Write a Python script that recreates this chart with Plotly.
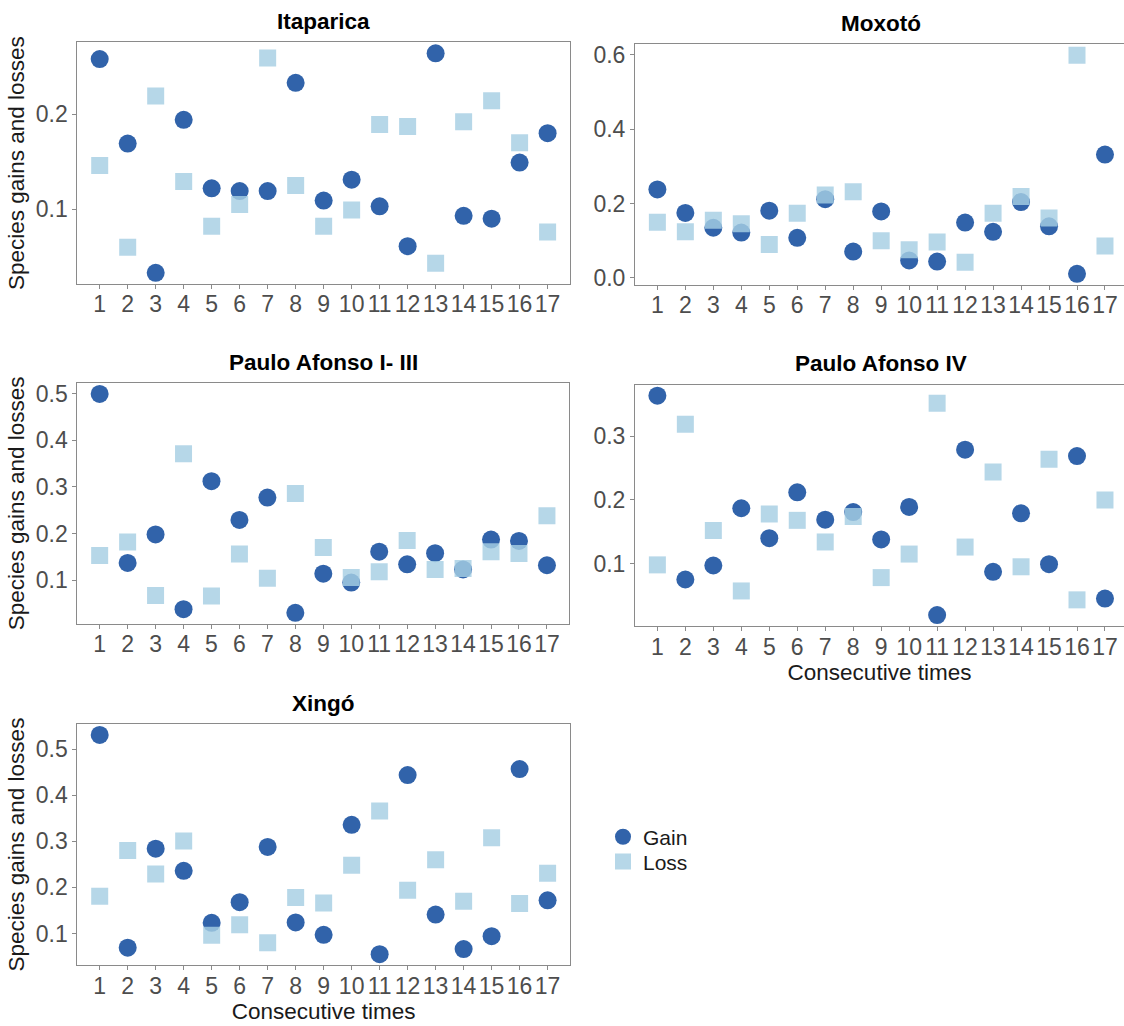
import plotly.graph_objects as go

# ---------------- data ----------------
times = list(range(1, 18))
tick_labels = [str(t) for t in times]

panel_titles = ["Itaparica", "Moxotó", "Paulo Afonso I- III", "Paulo Afonso IV", "Xingó"]

itaparica_gain = [0.258, 0.169, 0.033, 0.194, 0.122, 0.119, 0.119, 0.233, 0.109, 0.131, 0.103, 0.061, 0.264, 0.093, 0.090, 0.149, 0.180]
itaparica_loss = [0.146, 0.060, 0.219, 0.129, 0.082, 0.105, 0.259, 0.125, 0.082, 0.099, 0.189, 0.187, 0.043, 0.192, 0.214, 0.170, 0.076]

moxoto_gain = [0.238, 0.175, 0.135, 0.122, 0.181, 0.108, 0.212, 0.071, 0.179, 0.047, 0.044, 0.149, 0.124, 0.204, 0.139, 0.011, 0.332]
moxoto_loss = [0.150, 0.124, 0.155, 0.146, 0.090, 0.174, 0.223, 0.232, 0.100, 0.076, 0.097, 0.042, 0.174, 0.219, 0.161, 0.599, 0.086]

pa13_gain = [0.499, 0.137, 0.198, 0.038, 0.312, 0.229, 0.277, 0.030, 0.114, 0.095, 0.161, 0.134, 0.158, 0.123, 0.187, 0.184, 0.132]
pa13_loss = [0.153, 0.182, 0.067, 0.371, 0.066, 0.156, 0.104, 0.286, 0.170, 0.106, 0.118, 0.185, 0.123, 0.125, 0.161, 0.157, 0.238]

pa4_gain = [0.364, 0.075, 0.097, 0.187, 0.140, 0.212, 0.169, 0.181, 0.138, 0.189, 0.019, 0.279, 0.087, 0.179, 0.099, 0.269, 0.045]
pa4_loss = [0.098, 0.319, 0.152, 0.057, 0.178, 0.168, 0.134, 0.174, 0.078, 0.115, 0.352, 0.126, 0.244, 0.095, 0.264, 0.043, 0.200]

xingo_gain = [0.531, 0.069, 0.284, 0.236, 0.123, 0.168, 0.288, 0.124, 0.097, 0.336, 0.055, 0.444, 0.141, 0.066, 0.094, 0.457, 0.172]
xingo_loss = [0.181, 0.280, 0.229, 0.301, 0.096, 0.119, 0.080, 0.178, 0.166, 0.248, 0.366, 0.194, 0.260, 0.170, 0.308, 0.165, 0.231]

gains = [itaparica_gain, moxoto_gain, pa13_gain, pa4_gain, xingo_gain]
losses = [itaparica_loss, moxoto_loss, pa13_loss, pa4_loss, xingo_loss]
y_dticks = [0.1, 0.2, 0.1, 0.1, 0.1]

# ---------------- layout geometry (pixels) ----------------
W, H = 1124, 1026
# (left, right, top, bottom) of each panel in pixels
boxes = [
    (77.3, 570.0, 40.7, 284.0),
    (635.0, 1124.0, 42.7, 285.0),
    (77.3, 569.3, 384.0, 626.7),
    (635.0, 1124.0, 385.7, 629.0),
    (77.3, 570.0, 727.7, 970.7),
]
title_centers = [323.6, 881.3, 323.3, 881.3, 323.6]
x_ranges = [[0.2, 17.8], [0.2, 17.68], [0.2, 17.8], [0.2, 17.68], [0.2, 17.8]]
is_left = [True, False, True, False, True]
has_xtitle = [False, False, False, True, True]

GAIN_COLOR = "#3163AA"
LOSS_COLOR = "rgba(166,206,227,0.82)"
FONT = "Liberation Sans, Arial, sans-serif"
BORDER = "#8a8a8a"

fig = go.Figure()
layout = dict(
    width=W, height=H,
    margin=dict(l=0, r=0, t=0, b=0),
    paper_bgcolor="white", plot_bgcolor="white",
    font=dict(family=FONT, size=22, color="#1a1a1a"),
    annotations=[],
)

for i in range(5):
    ax = "" if i == 0 else str(i + 1)
    l, r, t, b = boxes[i]
    ydata = gains[i] + losses[i]
    lo, hi = min(ydata), max(ydata)
    pad = 0.05 * (hi - lo)

    fig.add_trace(go.Scatter(
        x=times, y=gains[i], mode="markers", name="Gain",
        legendgroup="gain", showlegend=(i == 0), legend="legend",
        marker=dict(symbol="circle", size=18, color=GAIN_COLOR, line=dict(width=0)),
        xaxis="x" + ax, yaxis="y" + ax,
    ))
    fig.add_trace(go.Scatter(
        x=times, y=losses[i], mode="markers", name="Loss",
        legendgroup="loss", showlegend=(i == 0), legend="legend2",
        marker=dict(symbol="square", size=17, color=LOSS_COLOR, line=dict(width=0)),
        xaxis="x" + ax, yaxis="y" + ax,
    ))

    layout["xaxis" + ax] = dict(
        domain=[l / W, r / W], anchor="y" + ax,
        range=x_ranges[i], tickmode="array", tickvals=times, ticktext=tick_labels,
        showgrid=False, zeroline=False,
        showline=True, mirror=True, linecolor=BORDER, linewidth=1,
        ticks="outside", ticklen=4, tickcolor=BORDER, tickwidth=1,
        tickfont=dict(size=23, color="#4d4d4d"), ticklabelstandoff=-4,
        title=dict(text="Consecutive times" if has_xtitle[i] else "",
                   font=dict(size=22.5, color="#1a1a1a"), standoff=0),
    )
    layout["yaxis" + ax] = dict(
        domain=[1 - b / H, 1 - t / H], anchor="x" + ax,
        range=[lo - pad, hi + pad], tick0=0, dtick=y_dticks[i], tickformat=".1f",
        showgrid=False, zeroline=False,
        showline=True, mirror=is_left[i], linecolor=BORDER, linewidth=1,
        ticks="outside", ticklen=4, tickcolor=BORDER, tickwidth=1,
        tickfont=dict(size=23, color="#4d4d4d"),
        title=dict(text="Species gains and losses" if is_left[i] else "",
                   font=dict(size=22.5, color="#1a1a1a"), standoff=4),
    )
    layout["annotations"].append(dict(
        text="<b>" + panel_titles[i] + "</b>",
        x=title_centers[i] / W,
        y=1 - (t - 21) / H, xref="paper", yref="paper",
        xanchor="center", yanchor="middle", showarrow=False,
        font=dict(size=22.5, color="#000000", family=FONT),
    ))

legend_style = dict(
    xanchor="left", yanchor="top",
    font=dict(size=21, color="#1a1a1a"),
    bgcolor="rgba(0,0,0,0)", borderwidth=0, itemsizing="trace",
)
layout["legend"] = dict(x=603 / W, y=1 - 821 / H, **legend_style)
layout["legend2"] = dict(x=603 / W, y=1 - 846 / H, **legend_style)

fig.update_layout(**layout)
fig.write_html("out.html")
